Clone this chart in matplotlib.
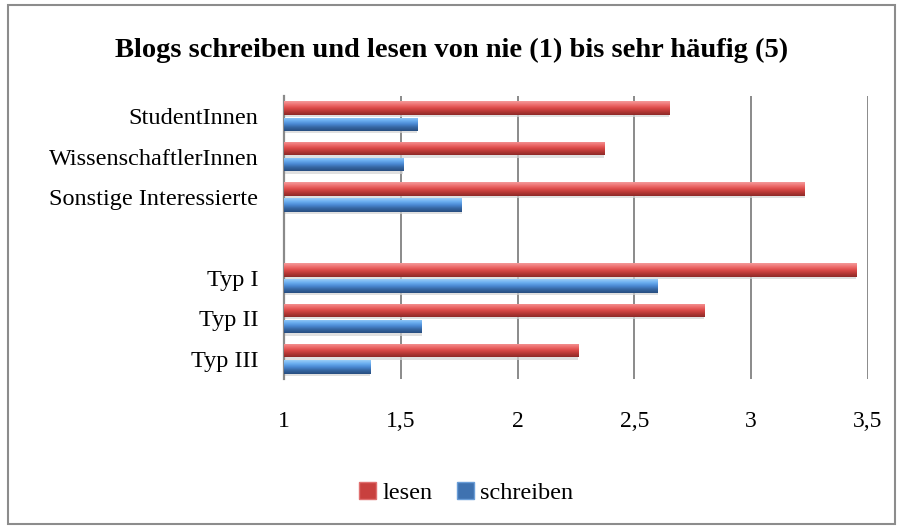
import matplotlib
matplotlib.use("Agg")
import matplotlib.pyplot as plt
import numpy as np
from matplotlib.colors import LinearSegmentedColormap
from matplotlib.patches import Patch, Rectangle

# data (scale: nie = 1 ... sehr häufig = 5)
categories = ["StudentInnen", "WissenschaftlerInnen", "Sonstige Interessierte",
              "Typ I", "Typ II", "Typ III"]
lesen = [2.65, 2.37, 3.23, 3.45, 2.80, 2.26]
schreiben = [1.57, 1.51, 1.76, 2.60, 1.59, 1.37]
x_ticks = [1, 1.5, 2, 2.5, 3, 3.5]
x_tick_labels = ["1", "1,5", "2", "2,5", "3", "3,5"]

RED_BASE = "#d9534f"
BLUE_BASE = "#4a86c8"
RED_GRAD = ["#f49a9a", "#ee7070", "#dc4a48", "#b53835", "#8e2a28"]
BLUE_GRAD = ["#9acdf7", "#6aaef0", "#4a88d2", "#34649f", "#284e80"]
GRID = "#8a8a8a"

plt.rcParams["font.family"] = ["Liberation Serif", "DejaVu Serif"]

W, H = 904, 530
fig = plt.figure(figsize=(W / 100, H / 100), dpi=100)
fig.patch.set_facecolor("white")

# outer chart border
fig.patches.append(Rectangle((8 / W, 1 - 524 / H), 887 / W, 519 / H,
                             transform=fig.transFigure, fill=False,
                             edgecolor="#8c8c8c", linewidth=1.5))

ax = fig.add_axes([284 / W, 1 - 379 / H, (868 - 284) / W, (379 - 96) / H])

# slot layout: three groups, an empty slot, then three types (top to bottom)
slots = [0, 1, 2, 4, 5, 6]
n_slots = 7
y = np.array([n_slots - 1 - s for s in slots], dtype=float)
bar_h = 0.33
off = 0.2


def gradient_bars(bars, colors):
    cmap = LinearSegmentedColormap.from_list("g", colors)
    grad = np.linspace(0, 1, 64).reshape(-1, 1)
    for p in bars:
        x0, y0 = p.get_x(), p.get_y()
        w, h = p.get_width(), p.get_height()
        im = ax.imshow(grad, cmap=cmap, aspect="auto", origin="upper",
                       extent=[x0, x0 + w, y0, y0 + h], zorder=3,
                       interpolation="bilinear")
        im.set_clip_path(p)


# soft shadows under the bars
ax.barh(y + off - 0.06, np.array(lesen) - 1, left=1, height=bar_h,
        color="#d4d4d4", alpha=0.7, zorder=2, linewidth=0)
ax.barh(y - off - 0.06, np.array(schreiben) - 1, left=1, height=bar_h,
        color="#d4d4d4", alpha=0.7, zorder=2, linewidth=0)

red_bars = ax.barh(y + off, np.array(lesen) - 1, left=1, height=bar_h,
                   color=RED_BASE, zorder=3, linewidth=0)
blue_bars = ax.barh(y - off, np.array(schreiben) - 1, left=1, height=bar_h,
                    color=BLUE_BASE, zorder=3, linewidth=0)
gradient_bars(red_bars, RED_GRAD)
gradient_bars(blue_bars, BLUE_GRAD)

ax.set_xlim(1, 3.5)
ax.set_ylim(-0.5, n_slots - 0.5)
ax.set_xticks(x_ticks)
ax.set_xticklabels(x_tick_labels)
ax.set_yticks(y)
ax.set_yticklabels(categories)
ax.tick_params(axis="x", length=0, pad=34.5, labelsize=17)
ax.tick_params(axis="y", length=0, pad=18.5, labelsize=17.5)
for lab in ax.get_xticklabels():
    lab.set_verticalalignment("baseline")

ax.grid(axis="x", color=GRID, linewidth=1.4, zorder=0)
ax.set_axisbelow(True)
for side in ["top", "right", "bottom"]:
    ax.spines[side].set_visible(False)
ax.spines["left"].set_color(GRID)
ax.spines["left"].set_linewidth(1.6)

fig.text(452 / W, 1 - 50 / H,
         "Blogs schreiben und lesen von nie (1) bis sehr häufig (5)",
         ha="center", va="center", fontsize=20.5, fontweight="bold")

handles = [Patch(facecolor="#c8403e", edgecolor="#e07070", label="lesen"),
           Patch(facecolor="#3f72b0", edgecolor="#6a9ed8", label="schreiben")]
fig.legend(handles=handles, loc="center", bbox_to_anchor=(466 / W, 1 - 493 / H),
           ncol=2, frameon=False, fontsize=17.5, handlelength=0.7,
           handleheight=0.7, handletextpad=0.25, columnspacing=1.0)

fig.savefig("out.png", dpi=100, facecolor="white")
